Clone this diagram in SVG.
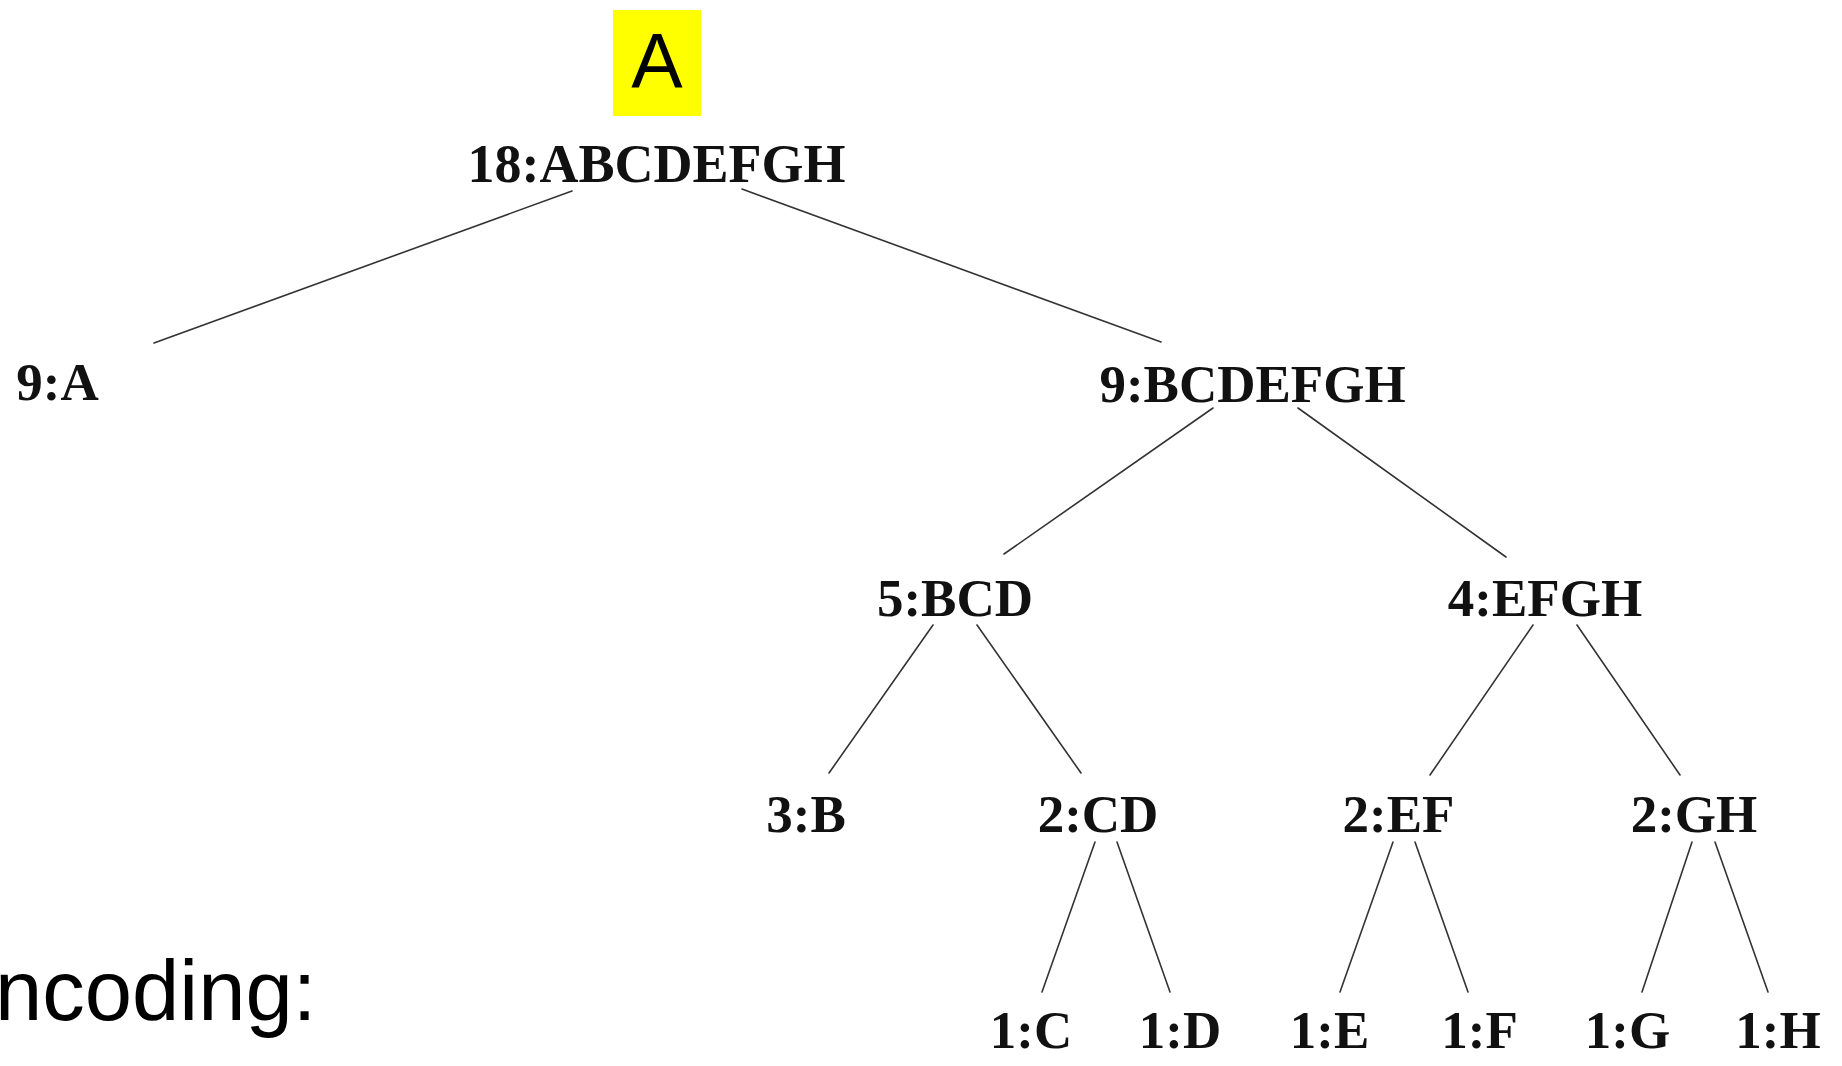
<svg xmlns="http://www.w3.org/2000/svg" width="1842" height="1066" viewBox="0 0 1842 1066">
<style>
.lbl{font-family:"Liberation Serif","Times New Roman",serif;font-weight:bold;font-size:53px;fill:#111;text-anchor:middle}
.edge{stroke:#333;stroke-width:1.6;fill:none;stroke-linecap:round}
</style>
<rect width="1842" height="1066" fill="#fff"/>
<g id="highlight">
<rect x="613" y="10" width="88" height="106" fill="#ffff00"/>
<text x="657" y="88" font-family="Liberation Sans, Arial, sans-serif" font-size="77" text-anchor="middle" fill="#000">A</text>
</g>
<text id="encoding" x="-5" y="1020" font-family="Liberation Sans, Arial, sans-serif" font-size="85" fill="#000">ncoding:</text>
<g id="connectors">
<line class="edge" x1="572" y1="191" x2="154" y2="343"/>
<line class="edge" x1="742" y1="189" x2="1161" y2="342"/>
<line class="edge" x1="1213" y1="408" x2="1004" y2="554"/>
<line class="edge" x1="1298" y1="408" x2="1506" y2="557"/>
<line class="edge" x1="933" y1="625" x2="829" y2="773"/>
<line class="edge" x1="977" y1="625" x2="1081" y2="773"/>
<line class="edge" x1="1533" y1="625" x2="1430" y2="775"/>
<line class="edge" x1="1577" y1="625" x2="1680" y2="775"/>
<line class="edge" x1="1095" y1="842" x2="1042" y2="992"/>
<line class="edge" x1="1117" y1="842" x2="1170" y2="992"/>
<line class="edge" x1="1393" y1="842" x2="1340" y2="992"/>
<line class="edge" x1="1415" y1="842" x2="1468" y2="992"/>
<line class="edge" x1="1692" y1="842" x2="1642" y2="992"/>
<line class="edge" x1="1715" y1="842" x2="1768" y2="992"/>
</g>
<g id="n-root"><text class="lbl" x="656.5" y="182" style="font-size:54px">18:ABCDEFGH</text></g>
<g id="n-A"><text class="lbl" x="57.5" y="400">9:A</text></g>
<g id="n-BCDEFGH"><text class="lbl" x="1252.5" y="402">9:BCDEFGH</text></g>
<g id="n-BCD"><text class="lbl" x="955" y="616">5:BCD</text></g>
<g id="n-EFGH"><text class="lbl" x="1545" y="616">4:EFGH</text></g>
<g id="n-B"><text class="lbl" x="806" y="832">3:B</text></g>
<g id="n-CD"><text class="lbl" x="1098" y="832">2:CD</text></g>
<g id="n-EF"><text class="lbl" x="1398.5" y="832">2:EF</text></g>
<g id="n-GH"><text class="lbl" x="1694" y="832">2:GH</text></g>
<g id="n-C"><text class="lbl" x="1031" y="1048">1:C</text></g>
<g id="n-D"><text class="lbl" x="1180" y="1048">1:D</text></g>
<g id="n-E"><text class="lbl" x="1329.5" y="1048">1:E</text></g>
<g id="n-F"><text class="lbl" x="1479.5" y="1048">1:F</text></g>
<g id="n-G"><text class="lbl" x="1627.5" y="1048">1:G</text></g>
<g id="n-H"><text class="lbl" x="1778" y="1048">1:H</text></g>
</svg>
